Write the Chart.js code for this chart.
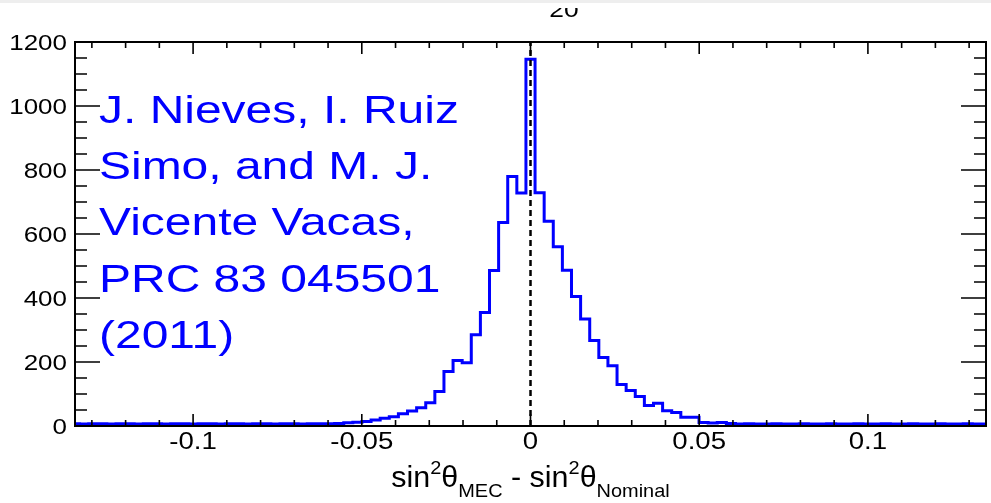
<!DOCTYPE html>
<html>
<head>
<meta charset="utf-8">
<script src="https://cdn.jsdelivr.net/npm/chart.js@4"></script>
<style>
  body { margin: 0; background: #fff; }
</style>
</head>
<body>
<canvas id="myChart_mec" width="991" height="503"></canvas>
<script>
// histogram, 101 bins of 0.0027 centred on zero
var binLow = -0.13635;
var binWidth = 0.0027;
var counts = [
  7, 6, 7, 7, 6, 7, 7, 6, 7, 7, 6, 7, 7, 6, 7, 7, 6, 7, 7, 6, 7, 7, 6, 7, 7, 6, 7, 7,
  7, 8, 10, 12, 14, 19, 24, 29, 38, 47, 57, 73, 108, 170, 205, 198, 285, 355, 486, 636, 780, 728,
  1146,
  729, 640, 560, 487, 405, 334, 267, 214, 188, 130, 111, 92, 64, 71, 48, 42, 27, 27, 11, 9, 11, 8,
  6, 7, 6, 6, 7, 6, 6, 7, 6, 6, 7, 6, 6, 7, 6, 6, 7, 6, 6, 7, 6, 6, 7, 6, 6, 7, 6, 6
];

var xMin = -0.135, xMax = 0.135;
var yMin = 0, yMax = 1200;
var xTickVals = [-0.1, -0.05, 0, 0.05, 0.1];
var xTickLabels = ["-0.1", "-0.05", "0", "0.05", "0.1"];
var yTickVals = [0, 200, 400, 600, 800, 1000, 1200];
var yTickLabels = ["0", "200", "400", "600", "800", "1000", "1200"];

var noteLines = ["J. Nieves, I. Ruiz", "Simo, and M. J.", "Vicente Vacas,", "PRC 83 045501", "(2011)"];
var topText = "20";

// step outline from bin edges
var histPoints = [];
for (var i = 0; i < counts.length; i++) {
  histPoints.push({x: binLow + i * binWidth, y: counts[i]});
}
histPoints.push({x: binLow + counts.length * binWidth, y: counts[counts.length - 1]});

var zeroLine = [{x: 0, y: yMin}, {x: 0, y: yMax}];

var FONT = '"Liberation Sans", Arial, Helvetica, sans-serif';

// text is a bit wider than tall in the original picture
function wideText(c, txt, x, y, size, sx, align) {
  c.save();
  c.font = size + 'px ' + FONT;
  c.textAlign = 'left';
  c.textBaseline = 'alphabetic';
  var w = c.measureText(txt).width * sx;
  var x0 = x;
  if (align === 'right') x0 = x - w;
  if (align === 'center') x0 = x - w / 2;
  c.translate(x0, y);
  c.scale(sx, 1);
  c.fillText(txt, 0, 0);
  c.restore();
  return w;
}

var rootFrame = {
  id: 'rootFrame',
  afterDraw: function(chart) {
    var c = chart.ctx;
    var a = chart.chartArea;
    var xs = chart.scales.x, ys = chart.scales.y;

    c.save();
    // grey strip at the very top
    c.fillStyle = '#eeeeee';
    c.fillRect(0, 0, chart.width, 3);

    // clipped title
    c.save();
    c.beginPath();
    c.rect(0, 8, chart.width, 30);
    c.clip();
    c.fillStyle = '#000';
    wideText(c, topText, 564, 17, 22, 1.2, 'center');
    c.restore();

    // frame
    c.strokeStyle = '#000';
    c.lineWidth = 2;
    c.strokeRect(a.left, a.top, a.right - a.left, a.bottom - a.top);

    // ticks, pointing inwards
    c.beginPath();
    for (var v = yMin; v <= yMax; v += 50) {
      var py = ys.getPixelForValue(v);
      var len = (v % 200 === 0) ? 25 : 12;
      c.moveTo(a.left, py); c.lineTo(a.left + len, py);
      c.moveTo(a.right, py); c.lineTo(a.right - len, py);
    }
    for (var k = -13; k <= 13; k++) {
      var px = xs.getPixelForValue(k / 100);
      var l2 = (k % 5 === 0) ? 12 : 6;
      c.moveTo(px, a.bottom); c.lineTo(px, a.bottom - l2);
      c.moveTo(px, a.top); c.lineTo(px, a.top + l2);
    }
    c.lineWidth = 1.6;
    c.stroke();

    // tick labels
    c.fillStyle = '#000';
    yTickVals.forEach(function(v, i) {
      wideText(c, yTickLabels[i], 67, ys.getPixelForValue(v) + 8, 22, 1.18, 'right');
    });
    xTickVals.forEach(function(v, i) {
      wideText(c, xTickLabels[i], xs.getPixelForValue(v), 449, 23, 1.2, 'center');
    });

    // axis title with super/subscripts
    var parts = [
      {t: 'sin', s: 29, dy: 0}, {t: '2', s: 19, dy: -13}, {t: '\u03b8', s: 29, dy: 0}, {t: 'MEC', s: 19, dy: 10},
      {t: ' - sin', s: 29, dy: 0}, {t: '2', s: 19, dy: -13}, {t: '\u03b8', s: 29, dy: 0}, {t: 'Nominal', s: 19, dy: 10}
    ];
    var tsx = 1.05;
    var total = 0;
    parts.forEach(function(p) {
      c.font = p.s + 'px ' + FONT;
      p.w = c.measureText(p.t).width * tsx;
      total += p.w;
    });
    var tx = (a.left + a.right) / 2 - total / 2;
    parts.forEach(function(p) {
      wideText(c, p.t, tx, 487 + p.dy, p.s, tsx, 'left');
      tx += p.w;
    });

    // reference note
    c.fillStyle = '#0000ff';
    var base = [123, 179, 235, 291.5, 348];
    noteLines.forEach(function(line, i) {
      wideText(c, line, 99, base[i], 39, 1.23, 'left');
    });
    c.restore();
  }
};

var ctx = document.getElementById("myChart_mec").getContext('2d');
var myChart_mec = new Chart(ctx, {
  type: 'line',
  data: {
    datasets: [{
      label: "zero",
      data: zeroLine,
      borderColor: '#000',
      borderWidth: 2.5,
      borderDash: [6, 4],
      pointRadius: 0,
      clip: 0,
      order: 1
    }, {
      label: "MEC",
      data: histPoints,
      stepped: 'before',
      borderColor: '#0000ff',
      borderWidth: 3,
      pointRadius: 0,
      fill: false,
      clip: 0,
      order: 2
    }]
  },
  options: {
    responsive: false,
    animation: false,
    devicePixelRatio: 1,
    layout: {
      padding: {left: 75, top: 42, right: 5, bottom: 77}
    },
    plugins: {
      legend: { display: false },
      tooltip: { enabled: false }
    },
    scales: {
      x: { type: 'linear', min: xMin, max: xMax, display: false },
      y: { min: yMin, max: yMax, display: false }
    }
  },
  plugins: [rootFrame]
});
</script>
</body>
</html>
